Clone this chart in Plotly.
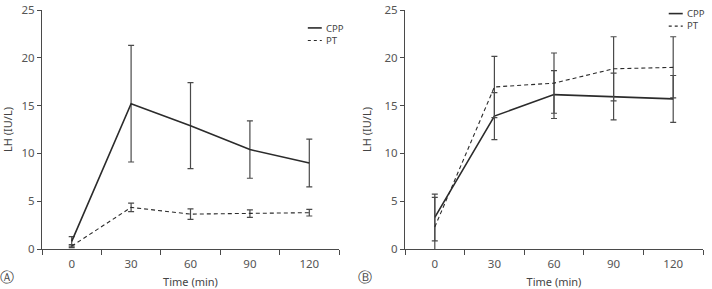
import plotly.graph_objects as go

times = [0, 30, 60, 90, 120]

# Panel A
a_cpp = [0.8, 15.2, 12.9, 10.4, 9.0]
a_cpp_err = [0.5, 6.1, 4.5, 3.0, 2.5]
a_pt = [0.3, 4.35, 3.65, 3.7, 3.8]
a_pt_err = [0.15, 0.45, 0.55, 0.4, 0.35]

# Panel B
b_cpp = [3.3, 13.9, 16.15, 15.95, 15.7]
b_cpp_err = [2.45, 2.45, 2.5, 2.45, 2.45]
b_pt = [2.3, 16.95, 17.35, 18.85, 19.0]
b_pt_err = [3.1, 3.2, 3.15, 3.35, 3.2]

y_ticks = [0, 5, 10, 15, 20, 25]
x_labels = ["0", "30", "60", "90", "120"]
legend_names = ["CPP", "PT"]
panel_labels = ["Ⓐ", "Ⓑ"]

AX = "#4a4a4a"
LINE = "#2b2b2b"
FONT = "Noto Sans"

fig = go.Figure()

def add_panel(xa, ya, cpp, cpp_err, pt, pt_err):
    fig.add_trace(go.Scatter(
        x=times, y=cpp, mode="lines", name="CPP", showlegend=False,
        line=dict(color=LINE, width=1.6),
        error_y=dict(type="data", array=cpp_err, visible=True, color=AX, thickness=1.2, width=3),
        xaxis=xa, yaxis=ya))
    fig.add_trace(go.Scatter(
        x=times, y=pt, mode="lines", name="PT", showlegend=False,
        line=dict(color=LINE, width=1.1, dash="4px,3px"),
        error_y=dict(type="data", array=pt_err, visible=True, color=AX, thickness=1.2, width=3),
        xaxis=xa, yaxis=ya))

add_panel("x", "y", a_cpp, a_cpp_err, a_pt, a_pt_err)
add_panel("x2", "y2", b_cpp, b_cpp_err, b_pt, b_pt_err)

ydom = [40 / 289, 279 / 289]
xdomA = [42 / 712, 339 / 712]
xdomB = [405 / 712, 703 / 712]

def xaxis_cfg(dom, anchor):
    return dict(
        domain=dom, anchor=anchor, range=[-15, 135], automargin=False,
        tickmode="array", tickvals=times, ticktext=x_labels, ticks="", ticklabelstandoff=4,
        showline=True, linecolor=AX, linewidth=1.2, showgrid=False, zeroline=False,
        tickfont=dict(family=FONT, size=11.5, color="#555"),
        minor=dict(tick0=-15, dtick=30, ticks="outside", ticklen=5, tickcolor=AX, tickwidth=1.2, showgrid=False),
        title=dict(text="Time (min)", font=dict(family=FONT, size=11, color="#444"), standoff=9),
    )

def yaxis_cfg(anchor):
    return dict(
        domain=ydom, anchor=anchor, range=[0, 25], automargin=False,
        tickmode="array", tickvals=y_ticks, ticks="outside", ticklen=4, tickcolor=AX, tickwidth=1.2,
        showline=True, linecolor=AX, linewidth=1.2, showgrid=False, zeroline=False,
        tickfont=dict(family=FONT, size=11.5, color="#555"),
        title=dict(text="LH (IU/L)", font=dict(family=FONT, size=11, color="#444"), standoff=10),
    )

fig.update_layout(
    width=712, height=289, margin=dict(l=0, r=0, t=0, b=0),
    plot_bgcolor="white", paper_bgcolor="white", showlegend=False,
    xaxis=xaxis_cfg(xdomA, "y"), yaxis=yaxis_cfg("x"),
    xaxis2=xaxis_cfg(xdomB, "y2"), yaxis2=yaxis_cfg("x2"),
)

# Custom compact legends (line samples + one multi-line label), in axis-domain coords
legend_pos = [("x", "y", 0.895, 0.925), ("x2", "y2", 0.885, 0.985)]
step = 12.5 / 239
for xa, ya, lx, ly in legend_pos:
    for i, nm in enumerate(legend_names):
        yy = ly - i * step
        fig.add_shape(type="line", xref=f"{xa} domain", yref=f"{ya} domain",
                      x0=lx, x1=lx + 0.047, y0=yy, y1=yy,
                      line=dict(color=LINE, width=1.6 if i == 0 else 1.1, dash="solid" if i == 0 else "3px,3px"))
    fig.add_annotation(xref=f"{xa} domain", yref=f"{ya} domain", x=lx + 0.058, y=ly - step / 2,
                       text="<br>".join(legend_names), showarrow=False, xanchor="left", yanchor="middle",
                       align="left", borderpad=0,
                       font=dict(family=FONT, size=9.6, color="#444"))

# Panel letters
for lbl, px in zip(panel_labels, [7, 365]):
    fig.add_annotation(xref="paper", yref="paper", x=px / 712, y=(289 - 277) / 289, text=lbl,
                       showarrow=False, xanchor="center", yanchor="middle",
                       font=dict(family="DejaVu Sans", size=14, color="#444"))

fig.write_html("out.html")
